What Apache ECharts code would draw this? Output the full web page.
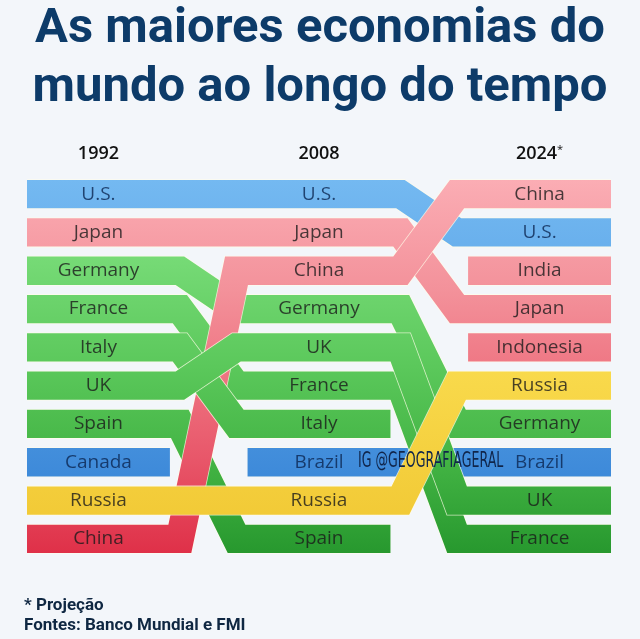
<!DOCTYPE html>
<html lang="pt">
<head>
<meta charset="UTF-8">
<title>As maiores economias do mundo ao longo do tempo</title>
<script src="https://cdn.jsdelivr.net/npm/echarts@6.0.0/dist/echarts.min.js"></script>
<style>
  html, body { margin: 0; padding: 0; width: 100%; height: 100%; background: #f3f6fa; overflow: hidden; }
  #chart { width: 640px; height: 639px; }
</style>
</head>
<body>
<div id="chart"></div>
<script>
// rankings, position 1 first
var years = ['1992', '2008', '2024*'];
var ranking1992 = ['U.S.', 'Japan', 'Germany', 'France', 'Italy', 'UK', 'Spain', 'Canada', 'Russia', 'China'];
var ranking2008 = ['U.S.', 'Japan', 'China', 'Germany', 'UK', 'France', 'Italy', 'Brazil', 'Russia', 'Spain'];
var ranking2024 = ['China', 'U.S.', 'India', 'Japan', 'Indonesia', 'Russia', 'Germany', 'Brazil', 'UK', 'France'];
var rankings = [ranking1992, ranking2008, ranking2024];

var blueCountries = ['U.S.', 'Canada', 'Brazil'];
var redCountries = ['Japan', 'China', 'India', 'Indonesia'];
var yellowCountries = ['Russia'];
// everything else is green

// first drawn = lowest
var drawOrder = ['Brazil', 'Canada', 'India', 'Indonesia', 'U.S.', 'Japan', 'France', 'Germany',
                 'Spain', 'China', 'Italy', 'UK', 'Russia'];

var HALF = 0.324;     // half width of a column, x units
var BEND_IN = 0.045;  // where the slant leaves a column
var BEND_OUT = 0.05;  // where the slant reaches the next one
var BAND = 0.78;      // ribbon thickness, rank units

var palettes = {
  blue:   [[0, '#74b9f1'], [0.3, '#62aaea'], [1, '#2e7cd2']],
  red:    [[0, '#fbadb4'], [0.3, '#f3919a'], [0.5, '#ef7784'], [0.75, '#e85669'], [1, '#df3048']],
  green:  [[0, '#8ae68a'], [0.2, '#77db77'], [0.5, '#5bc85b'], [0.75, '#43b444'], [1, '#27982e']],
  yellow: [[0, '#fbe065'], [0.5, '#f9da4c'], [1, '#f0c631']]
};

function groupOf(name) {
  if (blueCountries.indexOf(name) >= 0) return 'blue';
  if (redCountries.indexOf(name) >= 0) return 'red';
  if (yellowCountries.indexOf(name) >= 0) return 'yellow';
  return 'green';
}

function ranksOf(name) {
  return rankings.map(function (list) {
    var k = list.indexOf(name);
    return k < 0 ? null : k + 1;
  });
}

function renderRibbon(params, api) {
  var name = drawOrder[params.dataIndex];
  var ranks = ranksOf(name);
  var pts = [];
  for (var i = 0; i < ranks.length; i++) {
    if (ranks[i] === null) continue;
    if (pts.length === 0) pts.push([i - HALF, ranks[i]]);
    if (i + 1 < ranks.length && ranks[i + 1] !== null) {
      pts.push([i + HALF + BEND_IN, ranks[i]]);
      pts.push([i + 1 - HALF - BEND_OUT, ranks[i + 1]]);
    } else {
      pts.push([i + HALF, ranks[i]]);
    }
  }
  var points = pts.map(function (p) { return api.coord(p); });
  var w = api.size([0, BAND])[1];
  var y0 = api.coord([0, 1 - BAND / 2])[1];
  var y1 = api.coord([0, 10 + BAND / 2])[1];
  var grad = new echarts.graphic.LinearGradient(0, y0, 0, y1,
    palettes[groupOf(name)].map(function (s) { return { offset: s[0], color: s[1] }; }), true);
  return {
    type: 'group',
    children: [{
      type: 'polyline',
      shape: { points: points },
      style: { stroke: 'rgba(255,252,232,0.75)', lineWidth: w, fill: null,
               lineJoin: 'miter', miterLimit: 30, lineCap: 'butt' }
    }, {
      type: 'polyline',
      shape: { points: points },
      style: { stroke: grad, lineWidth: w - 1.6, fill: null,
               lineJoin: 'miter', miterLimit: 30, lineCap: 'butt' }
    }]
  };
}

var labelData = [];
rankings.forEach(function (list, i) {
  list.forEach(function (name, k) {
    labelData.push({
      name: name,
      value: [i, k + 1],
      label: { color: groupOf(name) === 'blue' ? '#0b2550' : '#1a1a1a' }
    });
  });
});

var chart = echarts.init(document.getElementById('chart'));
chart.setOption({
  backgroundColor: '#f3f6fa',
  animation: false,
  title: [{
    text: 'As maiores economias do\nmundo ao longo do tempo',
    left: 'center',
    top: 0,
    padding: 0,
    textStyle: { fontFamily: 'Roboto', fontWeight: 'bold', fontSize: 49, lineHeight: 59, color: '#0d3b69' }
  }, {
    text: '* Projeção\nFontes: Banco Mundial e FMI',
    left: 24,
    top: 596,
    padding: 0,
    textStyle: { fontFamily: 'Roboto', fontWeight: 'bold', fontSize: 17, lineHeight: 20, color: '#0f2742' }
  }],
  grid: { left: 27, right: 29, top: 175, bottom: 81 },
  xAxis: {
    type: 'value',
    position: 'top',
    min: -HALF,
    max: 2 + HALF,
    axisLine: { show: false },
    axisTick: { show: false },
    splitLine: { show: false },
    axisLabel: {
      customValues: [0, 1, 2],
      margin: 12,
      formatter: function (v) {
        var t = years[Math.round(v)];
        return t.indexOf('*') > 0 ? '{y|' + t.replace('*', '') + '}{s|*}' : '{y|' + t + '}';
      },
      rich: {
        y: { fontFamily: 'Open Sans', fontWeight: 600, fontSize: 18, color: '#111111' },
        s: { fontFamily: 'Open Sans', fontSize: 11, color: '#111111', verticalAlign: 'top', padding: [0, 0, 8, 0] }
      }
    }
  },
  yAxis: { type: 'value', inverse: true, min: 0.5, max: 10.5, show: false },
  graphic: [{
    type: 'text',
    x: 358,
    y: 462,
    scaleX: 0.6,
    z: 100,
    style: {
      text: 'IG @GEOGRAFIAGERAL',
      fontFamily: 'DejaVu Sans',
      fontSize: 21,
      fill: '#10254a',
      textVerticalAlign: 'middle'
    }
  }],
  series: [{
    type: 'custom',
    z: 2,
    silent: true,
    renderItem: renderRibbon,
    data: drawOrder.map(function (name, i) { return { name: name, value: [0, 1] }; })
  }, {
    type: 'scatter',
    z: 5,
    silent: true,
    symbolSize: 0,
    label: {
      show: true,
      position: 'inside',
      formatter: '{b}',
      fontFamily: 'Open Sans',
      fontSize: 19
    },
    data: labelData
  }]
});
</script>
</body>
</html>
